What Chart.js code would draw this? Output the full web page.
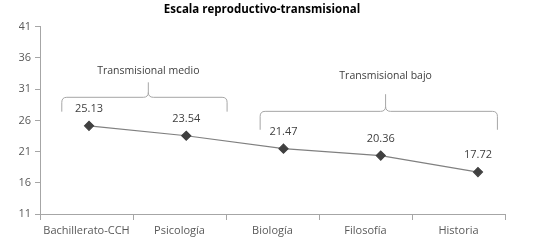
<!DOCTYPE html>
<html>
<head>
<meta charset="utf-8">
<script src="https://cdn.jsdelivr.net/npm/chart.js@4"></script>
<style>
  html, body { margin: 0; padding: 0; background: #fff; }
</style>
</head>
<body>
<canvas id="myLineChart" width="546" height="243"></canvas>
<script>
const categories = ['Bachillerato-CCH', 'Psicología', 'Biología', 'Filosofía', 'Historia'];
const scores = [25.13, 23.54, 21.47, 20.36, 17.72];
const yMin = 11, yMax = 41, yStep = 5;
const groupNames = ['Transmisional medio', 'Transmisional bajo'];
const groupMembers = [[0, 1], [2, 4]];

Chart.defaults.font.family = '"Open Sans", "Noto Sans", sans-serif';
Chart.defaults.color = '#595959';

// labels above each point
const valueLabels = {
  id: 'valueLabels',
  afterDatasetsDraw(chart) {
    const ctx = chart.ctx;
    const meta = chart.getDatasetMeta(0);
    ctx.save();
    ctx.font = '11px "Open Sans", sans-serif';
    ctx.fillStyle = '#404040';
    ctx.textAlign = 'center';
    ctx.textBaseline = 'middle';
    meta.data.forEach((pt, i) => {
      ctx.fillText(scores[i].toFixed(2), pt.x, pt.y - 17);
    });
    ctx.restore();
  }
};

// curly braces grouping the careers
const braces = {
  id: 'braces',
  afterDraw(chart, args, opts) {
    const ctx = chart.ctx;
    const xs = chart.scales.x2, ys = chart.scales.y;
    ctx.save();
    ctx.strokeStyle = '#a6a6a6';
    ctx.lineWidth = 1;
    ctx.font = '10.5px "Open Sans", sans-serif';
    ctx.fillStyle = '#404040';
    ctx.textAlign = 'center';
    ctx.textBaseline = 'middle';
    groupMembers.forEach((m, g) => {
      const o = opts.items[g];
      const x1 = xs.getPixelForValue(m[0] - o.padL);
      const x2 = xs.getPixelForValue(m[1] + o.padR);
      const xm = xs.getPixelForValue(o.mid);
      const yb = ys.getPixelForValue(o.bar);
      const ye = ys.getPixelForValue(o.end);
      const yp = ys.getPixelForValue(o.peak);
      const r = 5;
      ctx.beginPath();
      ctx.moveTo(x1, ye);
      ctx.lineTo(x1, yb + r);
      ctx.quadraticCurveTo(x1, yb, x1 + r, yb);
      ctx.lineTo(xm - r, yb);
      ctx.quadraticCurveTo(xm, yb, xm, yb - r);
      ctx.lineTo(xm, yp);
      ctx.moveTo(xm, yb - r);
      ctx.quadraticCurveTo(xm, yb, xm + r, yb);
      ctx.lineTo(x2 - r, yb);
      ctx.quadraticCurveTo(x2, yb, x2, yb + r);
      ctx.lineTo(x2, ye);
      ctx.stroke();
      ctx.fillText(groupNames[g], xm, ys.getPixelForValue(o.text));
    });
    ctx.restore();
  }
};

const config = {
  type: 'line',
  data: {
    labels: categories,
    datasets: [{
      label: 'Escala',
      xAxisID: 'x2',
      data: scores.map((v, i) => ({ x: i, y: v })),
      borderColor: '#808080',
      borderWidth: 1.2,
      pointStyle: 'rectRot',
      pointRadius: 4.5,
      pointBackgroundColor: '#404040',
      pointBorderColor: '#404040',
      fill: false,
      tension: 0
    }]
  },
  options: {
    responsive: false,
    animation: false,
    layout: { padding: { left: 19, right: 41, top: 0, bottom: 0 } },
    plugins: {
      legend: { display: false },
      tooltip: { enabled: false },
      title: {
        display: true,
        text: 'Escala reproductivo-transmisional',
        color: '#000000',
        font: { size: 11.5, weight: 'bold' },
        padding: { top: 3, bottom: 10 }
      },
      braces: {
        items: [
          { padL: 0.28, padR: 0.42, mid: 0.61, bar: 29.7, end: 27.4, peak: 32.1, text: 33.9 },
          { padL: 0.24, padR: 0.2, mid: 3.05, bar: 27.45, end: 24.5, peak: 30.2, text: 33.1 }
        ]
      }
    },
    scales: {
      x: {
        type: 'category',
        offset: true,
        grid: { offset: true, drawOnChartArea: false, tickLength: 6, color: '#a6a6a6' },
        border: { color: '#a6a6a6' },
        ticks: { font: { size: 11 }, color: '#595959', padding: 4 },
        afterFit: (s) => { s.height = 29; }
      },
      x2: {
        type: 'linear',
        display: false,
        min: -0.504,
        max: 4.278
      },
      y: {
        min: yMin,
        max: yMax,
        ticks: { stepSize: yStep, font: { size: 11 }, color: '#595959', padding: 4 },
        grid: { drawOnChartArea: false, tickLength: 5, color: '#a6a6a6' },
        border: { color: '#a6a6a6' },
        afterFit: (s) => { s.width = 21; }
      }
    }
  },
  plugins: [valueLabels, braces]
};

new Chart(document.getElementById('myLineChart'), config);
</script>
</body>
</html>
